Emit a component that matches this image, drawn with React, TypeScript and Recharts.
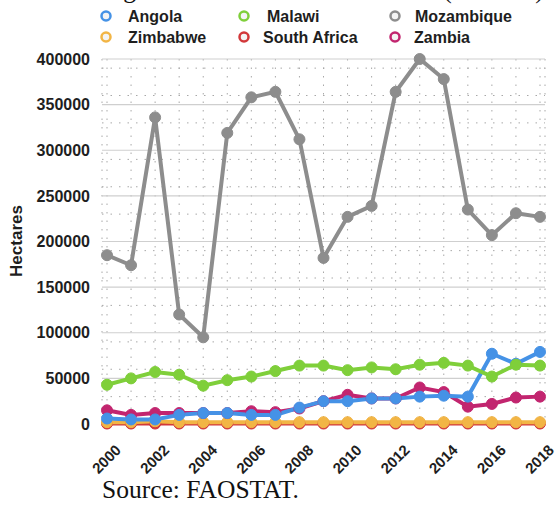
import React from 'react';
import { LineChart, Line, XAxis, YAxis, CartesianGrid } from 'recharts';

const years = [2000, 2001, 2002, 2003, 2004, 2005, 2006, 2007, 2008, 2009, 2010, 2011, 2012, 2013, 2014, 2015, 2016, 2017, 2018];

const angola = [6000, 5000, 5000, 10000, 12000, 12000, 10000, 10000, 18000, 25000, 25000, 28000, 28000, 30000, 31000, 30000, 77000, 66000, 79000];
const malawi = [43000, 50000, 57000, 54000, 42000, 48000, 52000, 58000, 64000, 64000, 59000, 62000, 60000, 65000, 67000, 64000, 52000, 65000, 64000];
const mozambique = [185000, 174000, 336000, 120000, 95000, 319000, 358000, 364000, 312000, 182000, 227000, 239000, 364000, 400000, 378000, 235000, 207000, 231000, 227000];
const zimbabwe = [2000, 2000, 3000, 2000, 2000, 2000, 2000, 2000, 2000, 2000, 2000, 2000, 2000, 2000, 2000, 2000, 2000, 2000, 2000];
const southAfrica = [500, 500, 500, 500, 500, 500, 500, 500, 500, 500, 500, 500, 500, 500, 500, 500, 500, 500, 500];
const zambia = [15000, 10000, 12000, 12000, 12000, 12000, 14000, 13000, 17000, 25000, 32000, 28000, 28000, 40000, 35000, 19000, 22000, 29000, 30000];

const yTicks = [0, 50000, 100000, 150000, 200000, 250000, 300000, 350000, 400000];
const minorLines = [10000, 20000, 30000, 40000, 60000, 70000, 80000, 90000, 110000, 120000, 130000, 140000, 160000, 170000, 180000, 190000, 210000, 220000, 230000, 240000, 260000, 270000, 280000, 290000, 310000, 320000, 330000, 340000, 360000, 370000, 380000, 390000];

const COLORS = {
  Angola: '#4592e6',
  Malawi: '#7fcf3a',
  Mozambique: '#8d8d8d',
  Zimbabwe: '#f2b545',
  'South Africa': '#d2383a',
  Zambia: '#c2256f',
};

const data = years.map((year, i) => ({
  year,
  Angola: angola[i],
  Malawi: malawi[i],
  Mozambique: mozambique[i],
  Zimbabwe: zimbabwe[i],
  'South Africa': southAfrica[i],
  Zambia: zambia[i],
}));

// legend laid out in two rows like the original
const legendItems = [
  { name: 'Angola', cx: 106, tx: 128, cy: 16 },
  { name: 'Malawi', cx: 244, tx: 267, cy: 16 },
  { name: 'Mozambique', cx: 395, tx: 415, cy: 16 },
  { name: 'Zimbabwe', cx: 106, tx: 128, cy: 37 },
  { name: 'South Africa', cx: 244, tx: 263, cy: 37 },
  { name: 'Zambia', cx: 395, tx: 414, cy: 37 },
];

const drawOrder = ['South Africa', 'Zimbabwe', 'Zambia', 'Angola', 'Malawi', 'Mozambique'];

const XTick = (props: any) => {
  const { x, y, payload } = props;
  if (Number(payload.value) % 2 !== 0) return <g />;
  const ax = x + 15;
  const ay = y + 27;
  return (
    <text
      x={ax}
      y={ay}
      textAnchor="end"
      transform={`rotate(-45 ${ax} ${ay})`}
      fontSize={15}
      fontWeight="bold"
      fontFamily="'Liberation Sans', Arial, sans-serif"
      fill="#1e1e1e"
    >
      {payload.value}
    </text>
  );
};

export default function App() {
  return (
    <div style={{ position: 'absolute', left: 0, top: 0, width: 557, height: 507, overflow: 'hidden', background: '#fff' }}>
      <div
        style={{
          position: 'absolute',
          left: 102,
          top: -23,
          fontFamily: "'Liberation Serif', 'Times New Roman', serif",
          fontSize: 25.5,
          lineHeight: '25.5px',
          whiteSpace: 'nowrap',
          color: '#111',
        }}
      >
        Figure 3. Cassava harvested area (hectares)
      </div>

      <svg width={557} height={50} style={{ position: 'absolute', left: 0, top: 0 }}>
        {legendItems.map((item) => (
          <g key={item.name}>
            <circle cx={item.cx} cy={item.cy} r={4.5} fill="#f4f4f4" stroke={COLORS[item.name as keyof typeof COLORS]} strokeWidth={2.5} />
            <text
              x={item.tx}
              y={item.cy + 5.5}
              fontSize={16}
              fontWeight="bold"
              fontFamily="'Liberation Sans', Arial, sans-serif"
              fill="#1e1e1e"
            >
              {item.name}
            </text>
          </g>
        ))}
      </svg>

      <div style={{ position: 'absolute', left: 0, top: 0 }}>
        <LineChart width={557} height={507} data={data} margin={{ top: 59, right: 12, bottom: 0, left: 0 }}>
          <CartesianGrid stroke="#a8a8a8" strokeDasharray="1.5 7" horizontalValues={minorLines} vertical={true} />
          <CartesianGrid stroke="#cfcfcf" strokeWidth={1.2} horizontalValues={yTicks} vertical={false} />
          <XAxis
            dataKey="year"
            type="category"
            interval={0}
            padding={{ left: 5, right: 5 }}
            axisLine={false}
            tickLine={false}
            tickSize={0}
            tickMargin={0}
            height={83}
            tick={<XTick />}
          />
          <YAxis
            domain={[0, 400000]}
            ticks={yTicks}
            width={102}
            axisLine={false}
            tickLine={false}
            tickSize={0}
            tickMargin={12}
            tick={{ fontSize: 16, fontWeight: 'bold', fill: '#1e1e1e', fontFamily: "'Liberation Sans', Arial, sans-serif" }}
          />
          {drawOrder.map((key) => (
            <Line
              key={key}
              dataKey={key}
              type="linear"
              stroke={COLORS[key as keyof typeof COLORS]}
              strokeWidth={4}
              dot={{ r: 5.5, fill: COLORS[key as keyof typeof COLORS], stroke: COLORS[key as keyof typeof COLORS], strokeWidth: 1 }}
              activeDot={false}
              isAnimationActive={false}
            />
          ))}
        </LineChart>
      </div>

      <div
        style={{
          position: 'absolute',
          left: 17,
          top: 241,
          transform: 'translate(-50%, -50%) rotate(-90deg)',
          fontFamily: "'Liberation Sans', Arial, sans-serif",
          fontWeight: 'bold',
          fontSize: 17,
          whiteSpace: 'nowrap',
          color: '#1e1e1e',
        }}
      >
        Hectares
      </div>

      <div
        style={{
          position: 'absolute',
          left: 102,
          top: 477,
          fontFamily: "'Liberation Serif', 'Times New Roman', serif",
          fontSize: 25.5,
          lineHeight: '25.5px',
          whiteSpace: 'nowrap',
          color: '#111',
        }}
      >
        Source: FAOSTAT.
      </div>
    </div>
  );
}
